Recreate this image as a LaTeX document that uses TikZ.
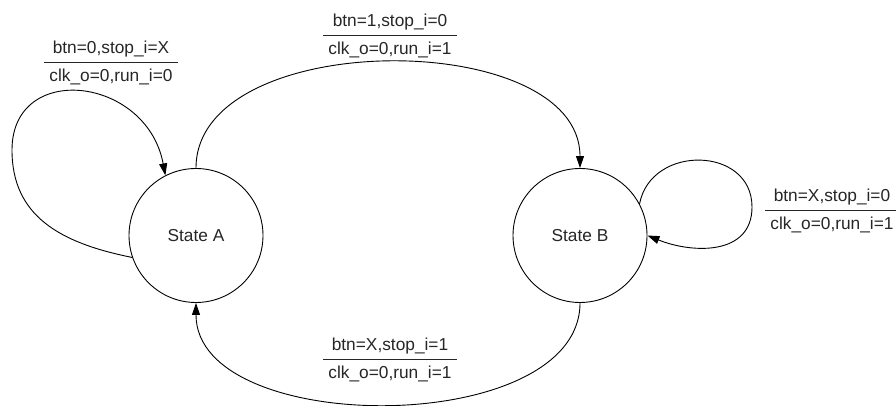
\documentclass[tikz,border=0pt]{standalone}
\usepackage{fontspec}
\setmainfont{Liberation Sans}
\usetikzlibrary{arrows.meta, positioning}

\begin{document}
\begin{tikzpicture}[x=1pt, y=1pt,
  stnode/.style={circle, draw, line width=0.9pt, minimum size=134pt, inner sep=0pt, text=black!85},
  trlabel/.style={inner sep=0pt, text=black!85},
  trans/.style={line width=0.9pt, -{Triangle[length=12pt, width=8pt]}},
  every node/.append style={font=\fontsize{17.3pt}{21pt}\selectfont}]
\useasboundingbox (0,0) rectangle (896,406);
\setlength{\tabcolsep}{5pt}
\setlength{\arrayrulewidth}{0.9pt}
\renewcommand{\arraystretch}{1.3}

% States
\node[stnode] (A) at (196,170.5) {State A};
\node[stnode] (B) at (580,170.5) {State B};

% Transitions
\draw[trans] (A.north) .. controls +(0,141) and +(0,141) .. (B.north);
\draw[trans] (B.south) .. controls +(0,-135) and +(0,-135) .. (A.south);
\draw[trans] (A.199) .. controls (60,163) and (12,190) .. (12,256)
  .. controls (12,345) and (146.6,330) .. (A.117);
\draw[trans] (B.28) .. controls (651,262) and (752,260) .. (752,199)
  .. controls (752,150) and (692,152.5) .. (B.east);

% Labels
\node[trlabel] (lAB) at (390,371) {\begin{tabular}{c}btn=1,stop\_i=0\\\hline clk\_o=0,run\_i=1\end{tabular}};
\node[trlabel] (lBA) at (390,47) {\begin{tabular}{c}btn=X,stop\_i=1\\\hline clk\_o=0,run\_i=1\end{tabular}};
\node[trlabel] (lAA) at (111,344) {\begin{tabular}{c}btn=0,stop\_i=X\\\hline clk\_o=0,run\_i=0\end{tabular}};
\node[trlabel] (lBB) at (832,196) {\begin{tabular}{c}btn=X,stop\_i=0\\\hline clk\_o=0,run\_i=1\end{tabular}};
\end{tikzpicture}
\end{document}
